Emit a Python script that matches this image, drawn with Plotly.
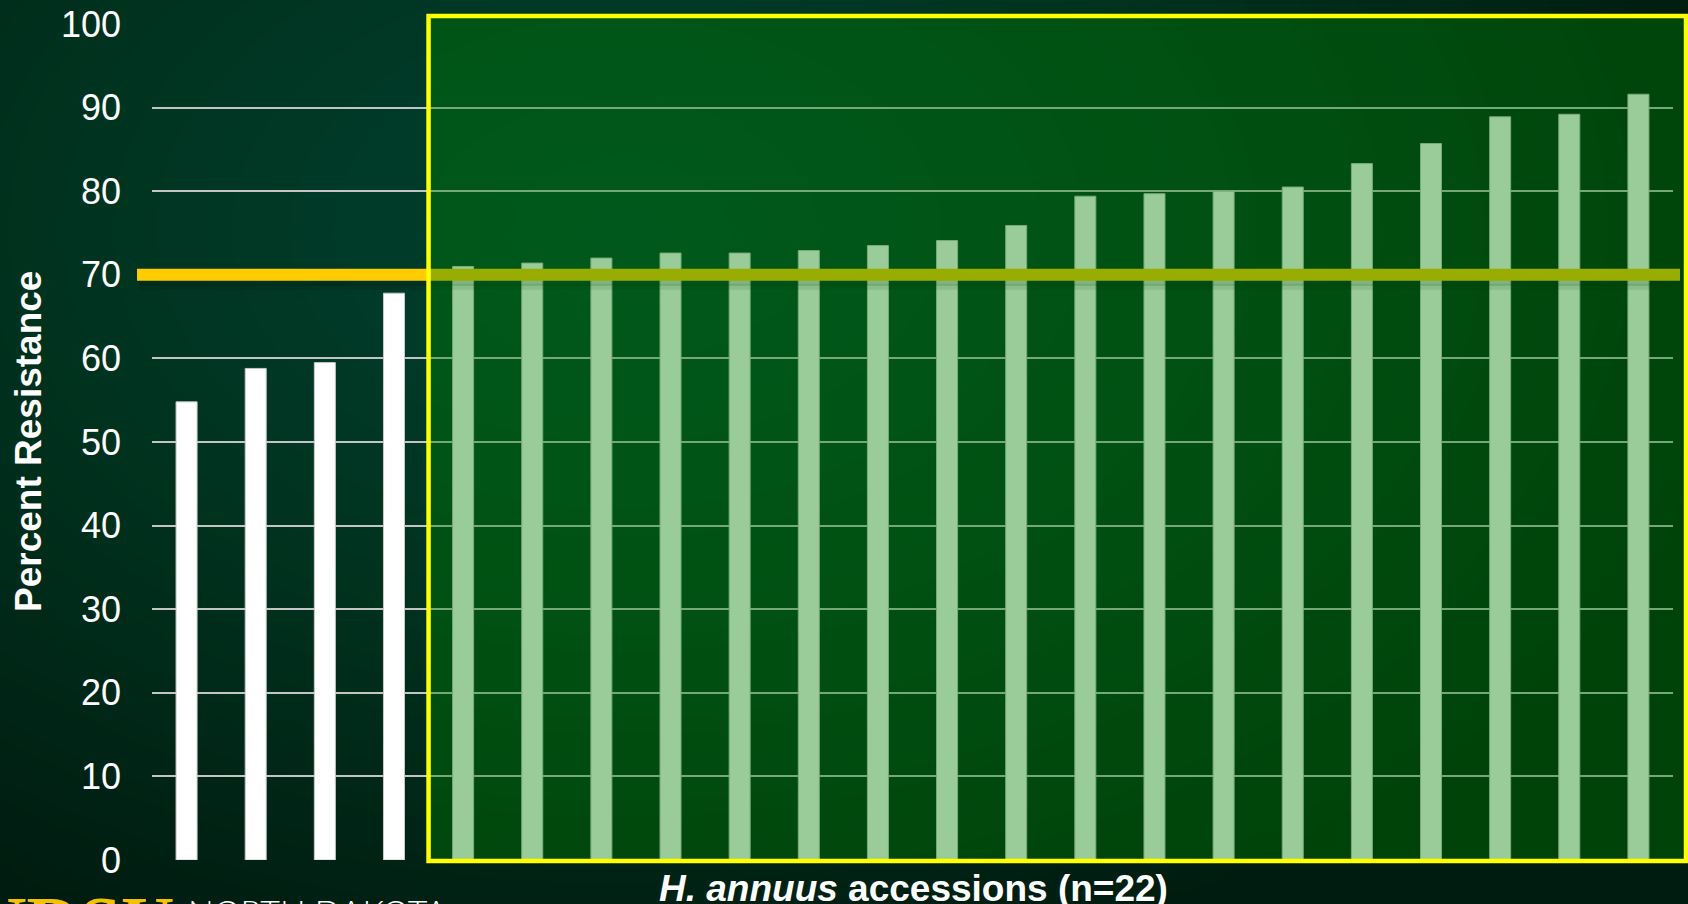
import numpy as np
import plotly.graph_objects as go

# ---------------- data ----------------
check_values = [54.8, 58.8, 59.5, 67.8]
accession_values = [71.0, 71.4, 72.0, 72.6, 72.6, 72.9, 73.5, 74.1, 75.9,
                    79.4, 79.7, 80.0, 80.5, 83.3, 85.7, 88.9, 89.2, 91.6]
threshold = 70
y_ticks = [0, 10, 20, 30, 40, 50, 60, 70, 80, 90, 100]
y_title = "Percent Resistance"
x_title = "<b><i>H. annuus</i> accessions (n=22)</b>"

n_check = len(check_values)
n_total = n_check + len(accession_values)
check_x = list(range(n_check))
acc_x = list(range(n_check, n_total))

W, H = 1688, 904
# plot area in pixels
PL, PR, PT, PB = 152, 1673, 24, 860
xd = [PL / W, PR / W]
yd = [1 - PB / H, 1 - PT / H]


def ypaper(v):
    return yd[0] + v / 100 * (yd[1] - yd[0])


def xpaper(cat_edge):
    return xd[0] + cat_edge / n_total * (xd[1] - xd[0])


fig = go.Figure()

# ---- background gradient (full-figure heatmap on hidden axes) ----
gx = np.linspace(0, 1, 40)
gy = np.linspace(0, 1, 24)
GX, GY = np.meshgrid(gx, gy)
px = GX * W
py = (1 - GY) * H
t = np.sqrt(((px - 620) / 1150) ** 2 + ((py - 230) / 760) ** 2)
t = np.clip(t, 0, 1)
fig.add_trace(go.Heatmap(
    x=gx, y=gy, z=t, zsmooth="best", showscale=False, hoverinfo="skip",
    colorscale=[[0, "#004030"], [0.5, "#00331f"], [1, "#001c10"]],
    zmin=0, zmax=1, xaxis="x", yaxis="y"))

# ---- bars ----
bar_w = 0.304
fig.add_trace(go.Bar(
    x=check_x, y=check_values, width=bar_w, name="check",
    marker=dict(color="#ffffff", line=dict(color="#c8c8c8", width=1)),
    xaxis="x2", yaxis="y2"))
fig.add_trace(go.Bar(
    x=acc_x, y=accession_values, width=bar_w, name="H. annuus",
    marker=dict(color="#ffffff", line=dict(color="#c8c8c8", width=1)),
    xaxis="x2", yaxis="y2"))

shapes = []
# soft shadow under threshold line
for off, alpha in [(8, 0.16), (12, 0.10)]:
    shapes.append(dict(type="line", xref="paper", yref="paper",
                       x0=139 / W, x1=1680 / W,
                       y0=ypaper(threshold) - off / H, y1=ypaper(threshold) - off / H,
                       line=dict(color="rgba(0,10,0,%.2f)" % alpha, width=6), layer="above"))
# threshold line
shapes.append(dict(type="line", xref="paper", yref="paper",
                   x0=137 / W, x1=1680 / W,
                   y0=ypaper(threshold), y1=ypaper(threshold),
                   line=dict(color="#ffcc00", width=12), layer="above"))
# highlighted box (semi-transparent green with yellow border)
shapes.append(dict(type="rect", xref="paper", yref="paper",
                   x0=xpaper(n_check), x1=1686 / W,
                   y0=1 - 861 / H, y1=1 - 16 / H,
                   fillcolor="rgba(0,128,0,0.40)",
                   line=dict(color="#ffff00", width=4.5), layer="above"))

annotations = [
    dict(text=x_title, xref="paper", yref="paper", x=913 / W, y=1 - 888 / H,
         xanchor="center", yanchor="middle", showarrow=False,
         font=dict(family="Arial, Liberation Sans", size=37, color="#ffffff")),
    dict(text="<b>" + y_title + "</b>", xref="paper", yref="paper",
         x=29 / W, y=1 - 442 / H, textangle=-90,
         xanchor="center", yanchor="middle", showarrow=False,
         font=dict(family="Arial, Liberation Sans", size=37, color="#ffffff")),
    dict(text="<b>NDSU</b>", xref="paper", yref="paper", x=176 / W, y=1 - 880 / H,
         xanchor="right", yanchor="top", showarrow=False,
         font=dict(family="Liberation Serif", size=74, color="#f2c200")),
    dict(text="NORTH DAKOTA", xref="paper", yref="paper", x=186 / W, y=1 - 889 / H,
         xanchor="left", yanchor="top", showarrow=False,
         font=dict(family="Lato", size=34, color="#ffffff", weight=300)),
]

fig.update_layout(
    width=W, height=H,
    margin=dict(l=0, r=0, t=0, b=0, pad=0, autoexpand=False),
    paper_bgcolor="#002a1c", plot_bgcolor="rgba(0,0,0,0)",
    showlegend=False, barmode="overlay",
    xaxis=dict(domain=[0, 1], range=[0, 1], visible=False, fixedrange=True,
               automargin=False),
    yaxis=dict(domain=[0, 1], range=[0, 1], visible=False, fixedrange=True,
               automargin=False),
    xaxis2=dict(domain=xd, anchor="y2", range=[-0.5, n_total - 0.5],
                showticklabels=False, showgrid=False, zeroline=False,
                showline=False, ticks="", automargin=False),
    yaxis2=dict(domain=yd, anchor="x2", range=[0, 100], tickvals=y_ticks,
                showgrid=True, gridcolor="#c4c4c4", gridwidth=1.5,
                zeroline=False, showline=False, ticks="", automargin=False,
                ticklabelstandoff=30,
                tickfont=dict(family="Arial, Liberation Sans", size=36, color="#ffffff")),
    shapes=shapes, annotations=annotations,
)

fig.write_html("out.html")
